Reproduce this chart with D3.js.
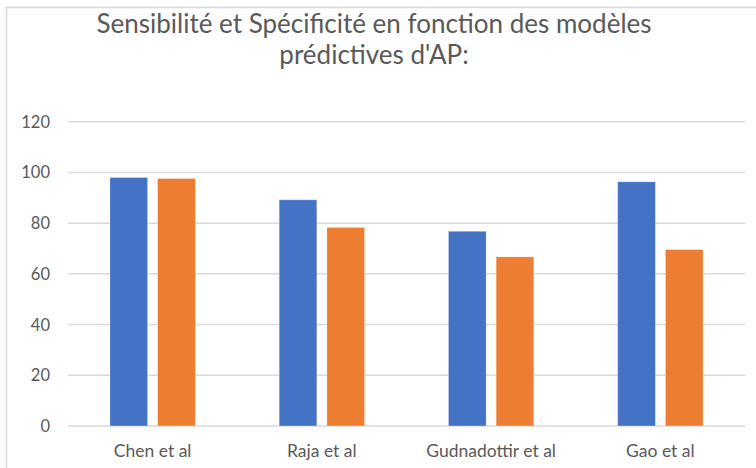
<!DOCTYPE html>
<html>
<head>
<meta charset="utf-8">
<script src="https://cdn.jsdelivr.net/npm/d3@7"></script>
<style>
  body { margin: 0; background: #fff; }
  svg { display: block; }
</style>
</head>
<body>
<div id="chart"></div>
<script>
const categories = ["Chen et al", "Raja et al", "Gudnadottir et al", "Gao et al"];
const series = ["Sensibilité", "Spécificité"];
const sensibilite = [98, 89.2, 76.8, 96.3];
const specificite = [97.6, 78.3, 66.7, 69.6];
const yTicks = [0, 20, 40, 60, 80, 100, 120];
const colors = ["#4472C4", "#ED7D31"];
const titleLines = ["Sensibilité et Spécificité en fonction des modèles", "prédictives d'AP:"];

const width = 756, height = 468;
const margin = { top: 121.7, right: 11, bottom: 42, left: 68 };
const font = "Lato, 'Open Sans', sans-serif";

const svg = d3.select("#chart")
    .append("svg")
    .attr("width", width)
    .attr("height", height);

// chart frame
svg.append("rect")
    .attr("x", 6.5).attr("y", 7.5)
    .attr("width", width + 20).attr("height", height + 20)
    .attr("fill", "#fff")
    .attr("stroke", "#d9d9d9")
    .attr("stroke-width", 1.5);

// title
svg.append("text")
    .attr("text-anchor", "middle")
    .attr("fill", "#595959")
    .style("font-family", font)
    .style("font-size", "26px")
    .selectAll("tspan")
    .data(titleLines)
    .enter()
    .append("tspan")
    .attr("x", 374)
    .attr("y", (d, i) => 33 + i * 30.5)
    .text(d => d);

const x0 = d3.scaleBand()
    .domain(categories)
    .range([margin.left, width - margin.right])
    .padding(0);

const groupW = 85.4;
const x1 = d3.scaleBand()
    .domain(series)
    .range([(x0.bandwidth() - groupW) / 2, (x0.bandwidth() + groupW) / 2])
    .paddingInner(0.21);

const y = d3.scaleLinear()
    .domain([0, 120])
    .range([height - margin.bottom, margin.top]);

// gridlines
svg.append("g")
    .selectAll("line")
    .data(yTicks)
    .enter()
    .append("line")
    .attr("x1", margin.left)
    .attr("x2", width - margin.right)
    .attr("y1", d => y(d))
    .attr("y2", d => y(d))
    .attr("stroke", "#d9d9d9")
    .attr("stroke-width", 1.5);

// y axis labels
svg.append("g")
    .selectAll("text")
    .data(yTicks)
    .enter()
    .append("text")
    .attr("x", 50)
    .attr("y", d => y(d))
    .attr("dy", "0.36em")
    .attr("text-anchor", "end")
    .attr("fill", "#595959")
    .style("font-family", font)
    .style("font-size", "16.5px")
    .text(d => d);

// bars
const rows = categories.map((c, i) => ({ cat: c, values: [sensibilite[i], specificite[i]] }));

svg.append("g")
    .selectAll("g")
    .data(rows)
    .enter()
    .append("g")
    .attr("transform", d => `translate(${x0(d.cat)},0)`)
    .selectAll("rect")
    .data(d => d.values.map((v, j) => ({ key: series[j], value: v, color: colors[j] })))
    .enter()
    .append("rect")
    .attr("x", d => x1(d.key))
    .attr("width", x1.bandwidth())
    .attr("y", d => y(d.value))
    .attr("height", d => y(0) - y(d.value))
    .attr("fill", d => d.color)
    .attr("stroke", "#fff")
    .attr("stroke-opacity", 0.4)
    .attr("stroke-width", 0.75);

// category labels
svg.append("g")
    .selectAll("text")
    .data(categories)
    .enter()
    .append("text")
    .attr("x", d => x0(d) + x0.bandwidth() / 2)
    .attr("y", 457)
    .attr("text-anchor", "middle")
    .attr("fill", "#595959")
    .style("font-family", font)
    .style("font-size", "17.5px")
    .text(d => d);
</script>
</body>
</html>
